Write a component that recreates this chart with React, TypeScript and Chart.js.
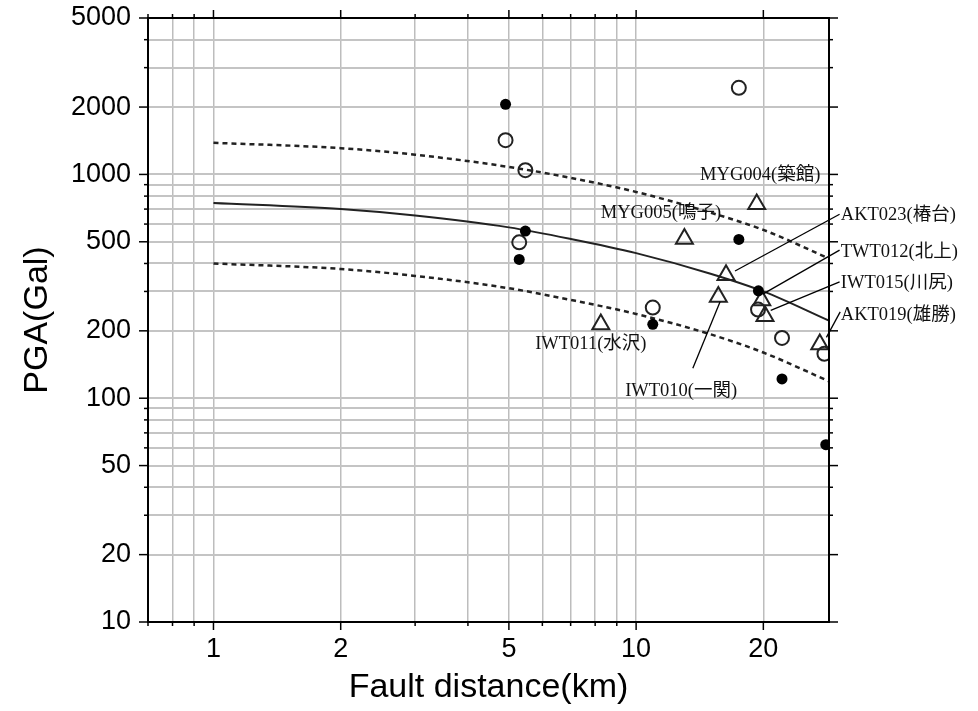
import { useEffect, useRef } from 'react';
import { Chart, registerables } from 'chart.js';

Chart.register(...registerables);

// Axis grid / tick values
const xGridTicks = [0.7, 0.8, 0.9, 1, 2, 3, 4, 5, 6, 7, 8, 9, 10, 20];
const yGridTicks = [10, 20, 30, 40, 50, 60, 70, 80, 90, 100, 200, 300, 400, 500, 600, 700, 800, 900, 1000, 2000, 3000, 4000, 5000];
const xLabeled = [1, 2, 5, 10, 20];
const yLabeled = [10, 20, 50, 100, 200, 500, 1000, 2000, 5000];

// Filled circles
const filledDist = [4.91, 5.47, 5.29, 10.95, 17.5, 19.47, 22.14, 28.1];
const filledPGA = [2056, 558, 417, 214, 512, 302, 122, 62];

// Open circles
const openDist = [4.91, 5.47, 5.29, 17.5, 10.95, 19.43, 22.14, 27.9];
const openPGA = [1423, 1045, 497, 2438, 254, 249, 186, 158];

// Triangles (stations)
const triStations = ['MYG004', 'MYG005', 'AKT023', 'IWT010', 'TWT012', 'IWT015', 'IWT011', 'AKT019'];
const triDist = [19.29, 13.01, 16.32, 15.65, 19.83, 20.18, 8.25, 27.2];
const triPGA = [736, 516, 355, 284, 274, 233, 214, 174];

// Attenuation curves
const curveDist = [1, 2, 3, 5, 7, 10, 15, 20, 28.6];
const medianPGA = [746, 700, 655, 580, 515, 445, 360, 300, 222];
const upperPGA = [1385, 1310, 1225, 1080, 965, 835, 675, 565, 421];
const lowerPGA = [400, 378, 352, 310, 275, 238, 193, 160, 119];

// Station annotations (text anchor in data units, left-aligned)
const labelText = ['MYG004(築館)', 'MYG005(鳴子)', 'AKT023(椿台)', 'TWT012(北上)', 'IWT015(川尻)', 'AKT019(雄勝)', 'IWT011(水沢)', 'IWT010(一関)'];
const labelDist = [14.17, 8.25, 30.5, 30.5, 30.5, 30.5, 5.77, 9.42];
const labelPGA = [993, 669, 658, 451, 326, 235, 174, 107];

// Leader lines (data units)
const leaderFromDist = [30.3, 30.3, 30.3, 30.4, 13.62];
const leaderFromPGA = [664, 459, 331, 243, 136];
const leaderToDist = [17.14, 19.94, 20.82, 28.2, 15.8];
const leaderToPGA = [370, 292, 247, 187, 270];

const toPts = (xs: number[], ys: number[]) => xs.map((x, i) => ({ x, y: ys[i] }));

const overlayPlugin = {
  id: 'overlay',
  afterDatasetsDraw(chart: any) {
    const { ctx, chartArea: a, scales } = chart;
    const xs = scales.x;
    const ys = scales.y;
    ctx.save();
    const seg = (x1: number, y1: number, x2: number, y2: number) => {
      ctx.beginPath();
      ctx.moveTo(x1, y1);
      ctx.lineTo(x2, y2);
      ctx.stroke();
    };
    // tick marks on all four sides
    ctx.strokeStyle = '#000';
    ctx.lineWidth = 1.5;
    for (const v of xGridTicks) {
      const px = xs.getPixelForValue(v);
      const len = xLabeled.includes(v) ? 8 : 4;
      seg(px, a.bottom, px, a.bottom + len);
      seg(px, a.top, px, a.top - len);
    }
    for (const v of yGridTicks) {
      const py = ys.getPixelForValue(v);
      const len = yLabeled.includes(v) ? 9 : 4;
      seg(a.left, py, a.left - len, py);
      seg(a.right, py, a.right + len, py);
    }
    // frame
    ctx.lineWidth = 2;
    ctx.strokeRect(a.left, a.top, a.right - a.left, a.bottom - a.top);
    // leader lines
    ctx.lineWidth = 1.3;
    for (let i = 0; i < leaderFromDist.length; i++) {
      seg(
        xs.getPixelForValue(leaderFromDist[i]), ys.getPixelForValue(leaderFromPGA[i]),
        xs.getPixelForValue(leaderToDist[i]), ys.getPixelForValue(leaderToPGA[i])
      );
    }
    // labels
    ctx.fillStyle = '#111';
    ctx.font = '18.5px "Liberation Serif", "Noto Sans CJK JP", serif';
    ctx.textAlign = 'left';
    ctx.textBaseline = 'middle';
    for (let i = 0; i < labelText.length; i++) {
      ctx.fillText(labelText[i], xs.getPixelForValue(labelDist[i]), ys.getPixelForValue(labelPGA[i]));
    }
    ctx.restore();
  },
};

export default function App() {
  const ref = useRef<HTMLCanvasElement | null>(null);
  useEffect(() => {
    if (!ref.current) return;
    const chart = new Chart(ref.current, {
      type: 'scatter',
      data: {
        datasets: [
          {
            label: 'filled',
            data: toPts(filledDist, filledPGA),
            pointStyle: 'circle',
            pointRadius: 5.5,
            pointBackgroundColor: '#000',
            pointBorderWidth: 0,
            clip: 0,
          } as any,
          {
            label: 'open',
            data: toPts(openDist, openPGA),
            pointStyle: 'circle',
            pointRadius: 7,
            pointBackgroundColor: 'rgba(0,0,0,0)',
            pointBorderColor: '#222',
            pointBorderWidth: 2,
            clip: 0,
          },
          {
            label: 'stations',
            data: toPts(triDist, triPGA),
            pointStyle: 'triangle',
            pointRadius: 9.8,
            pointBackgroundColor: 'rgba(0,0,0,0)',
            pointBorderColor: '#222',
            pointBorderWidth: 2,
            clip: 0,
          },
          {
            label: 'median',
            data: toPts(curveDist, medianPGA),
            showLine: true,
            pointRadius: 0,
            borderColor: '#222',
            borderWidth: 2,
            cubicInterpolationMode: 'monotone',
            clip: 0,
          },
          {
            label: 'upper',
            data: toPts(curveDist, upperPGA),
            showLine: true,
            pointRadius: 0,
            borderColor: '#222',
            borderWidth: 2.5,
            borderDash: [5, 4],
            cubicInterpolationMode: 'monotone',
            clip: 0,
          },
          {
            label: 'lower',
            data: toPts(curveDist, lowerPGA),
            showLine: true,
            pointRadius: 0,
            borderColor: '#222',
            borderWidth: 2.5,
            borderDash: [5, 4],
            cubicInterpolationMode: 'monotone',
            clip: 0,
          },
        ],
      },
      options: {
        animation: false,
        responsive: false,
        events: [],
        layout: { padding: { top: 18, right: 149, left: 0, bottom: 0 } },
        plugins: { legend: { display: false }, tooltip: { enabled: false } },
        scales: {
          x: {
            type: 'logarithmic',
            min: 0.7,
            max: 28.6,
            afterBuildTicks: (s: any) => { s.ticks = xGridTicks.map((v) => ({ value: v })); },
            afterFit: (s: any) => { s.height = 89; s.paddingLeft = 0; s.paddingRight = 0; },
            ticks: {
              autoSkip: false,
              maxRotation: 0,
              padding: 11,
              color: '#000',
              font: { family: '"Liberation Sans", Arial, sans-serif', size: 27 },
              callback: (v: any) => (xLabeled.includes(Number(v)) ? String(v) : ''),
            },
            grid: { color: '#bdbdbd', lineWidth: 1.5, drawTicks: false },
            border: { display: false },
            title: {
              display: true,
              text: 'Fault distance(km)',
              color: '#000',
              font: { family: '"Liberation Sans", Arial, sans-serif', size: 34 },
              padding: { top: 0, bottom: 3 },
            },
          },
          y: {
            type: 'logarithmic',
            min: 10,
            max: 5000,
            afterBuildTicks: (s: any) => { s.ticks = yGridTicks.map((v) => ({ value: v })); },
            afterFit: (s: any) => { s.width = 148; s.paddingTop = 0; s.paddingBottom = 0; },
            ticks: {
              autoSkip: false,
              padding: 17,
              color: '#000',
              font: { family: '"Liberation Sans", Arial, sans-serif', size: 27 },
              callback: (v: any) => (yLabeled.includes(Number(v)) ? String(v) : ''),
            },
            grid: { color: '#c4c4c4', lineWidth: 2, drawTicks: false },
            border: { display: false },
            title: {
              display: true,
              text: 'PGA(Gal)',
              color: '#000',
              font: { family: '"Liberation Sans", Arial, sans-serif', size: 34 },
              padding: { top: 17, bottom: 0 },
            },
          },
        },
      } as any,
      plugins: [overlayPlugin],
    });
    return () => chart.destroy();
  }, []);
  return (
    <div style={{ position: 'fixed', left: 0, top: 0, width: 978, height: 711, background: '#fff' }}>
      <canvas ref={ref} width={978} height={711} style={{ display: 'block' }} />
    </div>
  );
}
